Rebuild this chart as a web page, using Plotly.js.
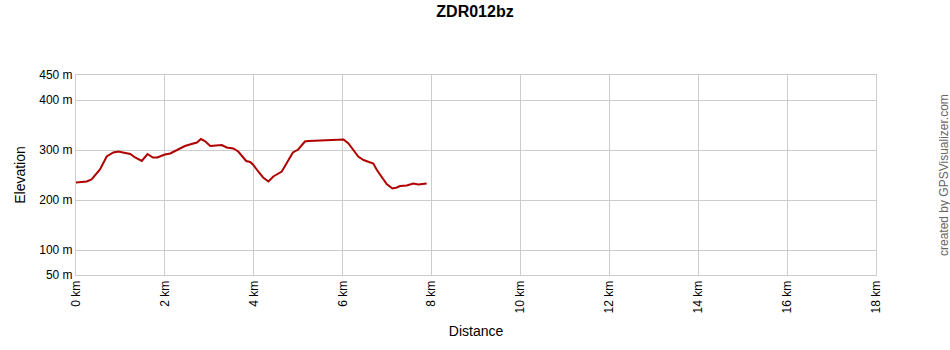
<!DOCTYPE html>
<html>
<head>
<meta charset="utf-8">
<script src="https://cdn.plot.ly/plotly-3.0.1.min.js"></script>
<style>html,body{margin:0;padding:0;background:#fff;}#chart{width:950px;height:350px;}</style>
</head>
<body>
<div id="chart"></div>
<script>
const distKm = [0.0, 0.24, 0.35, 0.43, 0.54, 0.69, 0.84, 0.95, 1.06, 1.22, 1.33, 1.48, 1.61, 1.73, 1.83, 1.93, 2.0, 2.12, 2.30, 2.45, 2.60, 2.72, 2.81, 2.90, 3.02, 3.17, 3.28, 3.39, 3.54, 3.65, 3.73, 3.83, 3.92, 3.99, 4.10, 4.21, 4.33, 4.44, 4.63, 4.74, 4.88, 5.00, 5.15, 5.23, 5.49, 5.72, 6.02, 6.13, 6.24, 6.35, 6.47, 6.58, 6.69, 6.77, 6.90, 6.99, 7.12, 7.22, 7.29, 7.44, 7.59, 7.70, 7.89];
const elevM = [235, 237, 241, 250, 261, 287, 295, 297, 295, 292, 285, 278, 292, 285, 285, 288, 291, 293, 302, 308, 312, 315, 322, 318, 308, 309, 310, 305, 303, 297, 288, 278, 276, 270, 257, 245, 237, 247, 257, 273, 295, 301, 317, 318, 319, 321, 321, 313, 301, 287, 280, 277, 273, 260, 243, 232, 223, 225, 228, 229, 233, 231, 233];
const xTickVals = [0, 2, 4, 6, 8, 10, 12, 14, 16, 18];
const xTickText = ["0 km", "2 km", "4 km", "6 km", "8 km", "10 km", "12 km", "14 km", "16 km", "18 km"];
const yTickVals = [50, 100, 200, 300, 400, 450];
const yTickText = ["50 m", "100 m", "200 m", "300 m", "400 m", "450 m"];

const font = "Liberation Sans, Arial, sans-serif";
Plotly.newPlot('chart', [{
  x: distKm, y: elevM, type: 'scatter', mode: 'lines',
  line: {color: '#b00000', width: 2}, hoverinfo: 'skip'
}], {
  width: 950, height: 350,
  margin: {l: 76, r: 74, t: 75, b: 75},
  paper_bgcolor: '#fff', plot_bgcolor: '#fff',
  showlegend: false,
  title: {text: '<b>ZDR012bz</b>', font: {family: font, size: 16, color: '#000'}, x: 0.5, xanchor: 'center', y: 0.967, yanchor: 'middle'},
  xaxis: {
    range: [0, 18], tickvals: xTickVals, ticktext: xTickText, tickangle: -90,
    showgrid: true, gridcolor: '#cccccc', gridwidth: 1, zeroline: false,
    showline: true, linecolor: '#cccccc', mirror: true,
    ticks: '', tickfont: {family: font, size: 12, color: '#000'},
    title: {text: 'Distance', font: {family: font, size: 14, color: '#000'}, standoff: 13}
  },
  yaxis: {
    range: [50, 450], tickvals: yTickVals, ticktext: yTickText,
    showgrid: true, gridcolor: '#cccccc', gridwidth: 1, zeroline: false,
    showline: true, linecolor: '#cccccc', mirror: true,
    ticks: '', tickfont: {family: font, size: 12, color: '#000'},
    title: {text: 'Elevation', font: {family: font, size: 14, color: '#000'}, standoff: 10}
  },
  annotations: [{
    text: 'created by GPSVisualizer.com', xref: 'paper', yref: 'paper',
    x: 1, xshift: 68, y: 0.5, yshift: 0, textangle: -90, showarrow: false,
    font: {family: font, size: 12, color: '#666'}, xanchor: 'center', yanchor: 'middle'
  }]
}, {displayModeBar: false, staticPlot: true});
</script>
</body>
</html>
